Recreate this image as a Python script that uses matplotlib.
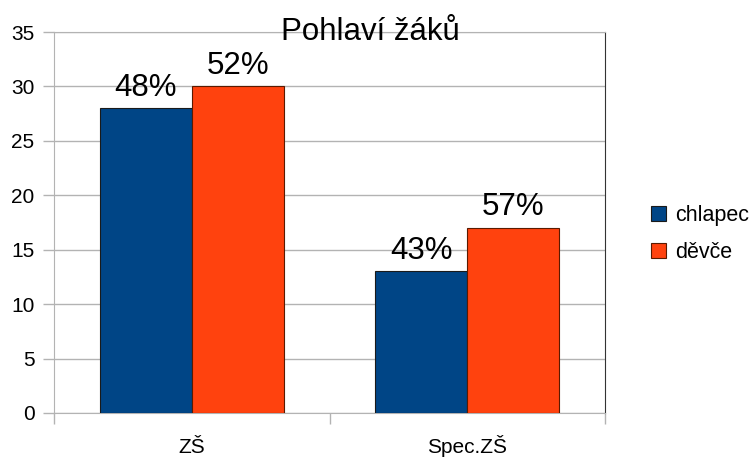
import matplotlib
matplotlib.use("Agg")
import matplotlib.pyplot as plt
import numpy as np
from matplotlib.patches import Patch

plt.rcParams['font.family'] = ['Liberation Sans', 'DejaVu Sans']

categories = ["ZŠ", "Spec.ZŠ"]
series_names = ["chlapec", "děvče"]
chlapec = [28, 13]
devce = [30, 17]
chlapec_labels = ["48%", "43%"]
devce_labels = ["52%", "57%"]
title = "Pohlaví žáků"
colors = ["#004586", "#ff420e"]

fig = plt.figure(figsize=(7.52, 4.57), dpi=100)
ax = fig.add_axes([54/752, 44/457, 551/752, 381/457])

x = np.arange(len(categories))
w = 1/3
b1 = ax.bar(x - w/2, chlapec, w, color=colors[0], edgecolor="#1a1a1a", linewidth=0.8, zorder=3)
b2 = ax.bar(x + w/2, devce, w, color=colors[1], edgecolor="#5a1a00", linewidth=0.8, zorder=3)

for bars, labs in ((b1, chlapec_labels), (b2, devce_labels)):
    for r, l in zip(bars, labs):
        ax.annotate(l, (r.get_x() + r.get_width()/2, r.get_height()),
                    xytext=(0, 4), textcoords="offset points",
                    ha="center", va="bottom", fontsize=22.5, color="black")

ax.set_xlim(-0.5, 1.5)
ax.set_ylim(0, 35)
ax.set_yticks(np.arange(0, 36, 5))
ax.yaxis.grid(True, color="#b3b3b3", linewidth=1, zorder=0)
ax.set_xticks(x)
ax.set_xticklabels(categories, fontsize=15)
for t in ax.get_xticklabels():
    t.set_verticalalignment("baseline")
ax.set_xticks([-0.5, 0.5, 1.5], minor=True)
ax.tick_params(axis='x', which='major', length=0, pad=29)
ax.tick_params(axis='x', which='minor', length=8, color="#b3b3b3", width=1)
ax.tick_params(axis='y', length=8, color="#b3b3b3", width=1, labelsize=15, pad=6)

for s in ("left", "bottom", "top"):
    ax.spines[s].set_color("#b3b3b3")
ax.spines["right"].set_color("#333333")

fig.text(370/752, 1 - 32/457, title, ha="center", va="center", fontsize=22.5)

handles = [Patch(facecolor=colors[0], edgecolor="#1a1a1a", linewidth=0.8),
           Patch(facecolor=colors[1], edgecolor="#5a1a00", linewidth=0.8)]
fig.legend(handles, series_names, loc="center left", bbox_to_anchor=(636/752, 1 - 234/457),
           frameon=False, fontsize=15.5, handlelength=0.7, handleheight=0.7,
           handletextpad=0.4, labelspacing=0.75, borderpad=0.2)

fig.savefig("out.png", dpi=100)
